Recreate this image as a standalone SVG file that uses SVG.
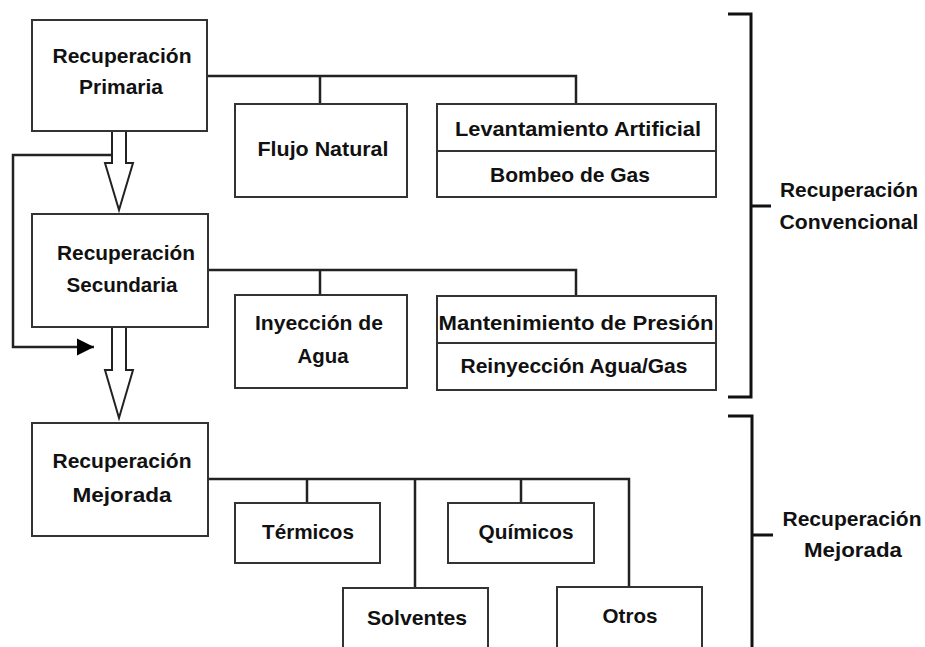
<svg xmlns="http://www.w3.org/2000/svg" width="925" height="647" viewBox="0 0 925 647">
<style>
.box{fill:#fff;stroke:#333;stroke-width:2}
.ln{fill:none;stroke:#222;stroke-width:2.5}
.br{fill:none;stroke:#111;stroke-width:3}
.t{font-family:"Liberation Sans",Arial,sans-serif;font-weight:bold;font-size:21px;fill:#111;text-anchor:middle}
.ha{fill:#fff;stroke:#222;stroke-width:2;stroke-linejoin:miter}
</style>
<defs>
<marker id="tri" viewBox="0 0 10 10" refX="10" refY="5" markerWidth="17" markerHeight="20" markerUnits="userSpaceOnUse" orient="auto"><path d="M0,0 L10,5 L0,10 Z" fill="#000"/></marker>
</defs>
<rect width="925" height="647" fill="#fff"/>
<g id="connectors">
<path class="ln" d="M207,76 H576 V104 M320,76 V104"/>
<path class="ln" d="M208,270 H576 V296 M320,270 V295"/>
<path class="ln" d="M208,479 H629 V587 M307,479 V503 M415,479 V588 M521,479 V503"/>
<path class="ln" d="M112,155 H13 V347 H94" marker-end="url(#tri)"/>
<path class="ha" d="M112,131 V163 H105 L119,210 L133,163 H126 V131"/>
<path class="ha" d="M112,327 V370 H105 L119,418 L133,370 H126 V327"/>
</g>
<g id="primaria">
<rect class="box" x="32" y="20" width="175" height="111"/>
<text class="t" x="122" y="63" textLength="139" lengthAdjust="spacingAndGlyphs">Recuperación</text>
<text class="t" x="121" y="94" textLength="84" lengthAdjust="spacingAndGlyphs">Primaria</text>
</g>
<g id="flujo">
<rect class="box" x="235" y="104" width="172" height="93"/>
<text class="t" x="323" y="156" textLength="131" lengthAdjust="spacingAndGlyphs">Flujo Natural</text>
</g>
<g id="levantamiento">
<rect class="box" x="437" y="104" width="279" height="93"/>
<line x1="437" y1="151" x2="716" y2="151" stroke="#333" stroke-width="2"/>
<text class="t" x="578" y="136" textLength="246" lengthAdjust="spacingAndGlyphs">Levantamiento Artificial</text>
<text class="t" x="570" y="182" textLength="160" lengthAdjust="spacingAndGlyphs">Bombeo de Gas</text>
</g>
<g id="secundaria">
<rect class="box" x="32" y="214" width="176" height="113"/>
<text class="t" x="126" y="260" textLength="138" lengthAdjust="spacingAndGlyphs">Recuperación</text>
<text class="t" x="122" y="292" textLength="111" lengthAdjust="spacingAndGlyphs">Secundaria</text>
</g>
<g id="inyeccion">
<rect class="box" x="235" y="295" width="172" height="93"/>
<text class="t" x="319" y="330" textLength="128" lengthAdjust="spacingAndGlyphs">Inyección de</text>
<text class="t" x="323" y="363" textLength="51" lengthAdjust="spacingAndGlyphs">Agua</text>
</g>
<g id="mantenimiento">
<rect class="box" x="437" y="296" width="279" height="94"/>
<line x1="437" y1="343" x2="716" y2="343" stroke="#333" stroke-width="2"/>
<text class="t" x="576" y="330" textLength="275" lengthAdjust="spacingAndGlyphs">Mantenimiento de Presión</text>
<text class="t" x="574" y="373" textLength="227" lengthAdjust="spacingAndGlyphs">Reinyección Agua/Gas</text>
</g>
<g id="mejorada">
<rect class="box" x="32" y="423" width="176" height="113"/>
<text class="t" x="122" y="468" textLength="139" lengthAdjust="spacingAndGlyphs">Recuperación</text>
<text class="t" x="122" y="502" textLength="99" lengthAdjust="spacingAndGlyphs">Mejorada</text>
</g>
<g id="termicos">
<rect class="box" x="235" y="503" width="145" height="60"/>
<text class="t" x="308" y="539" textLength="92" lengthAdjust="spacingAndGlyphs">Térmicos</text>
</g>
<g id="quimicos">
<rect class="box" x="448" y="503" width="146" height="60"/>
<text class="t" x="526" y="539" textLength="95" lengthAdjust="spacingAndGlyphs">Químicos</text>
</g>
<g id="solventes">
<rect class="box" x="343" y="588" width="145" height="70"/>
<text class="t" x="417" y="625" textLength="100" lengthAdjust="spacingAndGlyphs">Solventes</text>
</g>
<g id="otros">
<rect class="box" x="557" y="587" width="145" height="70"/>
<text class="t" x="630" y="623" textLength="55" lengthAdjust="spacingAndGlyphs">Otros</text>
</g>
<g id="convencional">
<path class="br" d="M728,14 H751 V397 H728 M751,206 H771"/>
<text class="t" x="849" y="197" textLength="138" lengthAdjust="spacingAndGlyphs">Recuperación</text>
<text class="t" x="849" y="229" textLength="139" lengthAdjust="spacingAndGlyphs">Convencional</text>
</g>
<g id="mejorada-grupo">
<path class="br" d="M728,416 H752 V650 M752,535 H773"/>
<text class="t" x="852" y="526" textLength="139" lengthAdjust="spacingAndGlyphs">Recuperación</text>
<text class="t" x="853" y="557" textLength="98" lengthAdjust="spacingAndGlyphs">Mejorada</text>
</g>
</svg>
